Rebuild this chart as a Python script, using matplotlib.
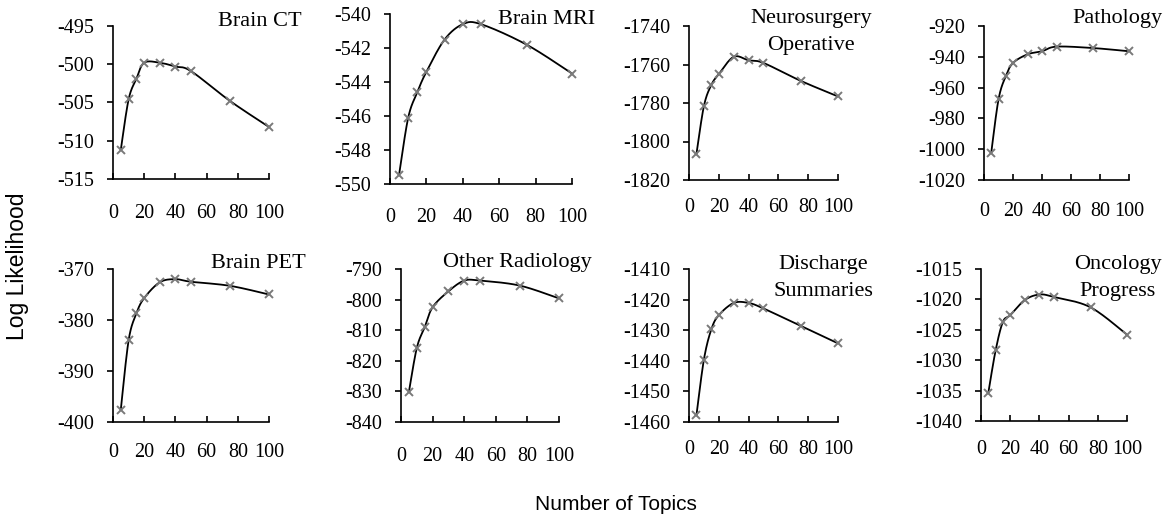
import numpy as np
import matplotlib
matplotlib.use("Agg")
import matplotlib.pyplot as plt

# ---------------- data ----------------
topics = [5, 10, 15, 20, 30, 40, 50, 75, 100]

brain_ct = [-511.2, -504.6, -501.9, -499.8, -499.8, -500.3, -500.9, -504.8, -508.2]
brain_mri = [-549.45, -546.1, -544.6, -543.4, -541.5, -540.6, -540.6, -541.8, -543.5]
neurosurgery = [-1806.5, -1781.6, -1770.6, -1765.0, -1756.0, -1757.8, -1759.2, -1768.5, -1776.6]
pathology = [-1002.3, -967.7, -952.6, -944.0, -938.4, -936.4, -933.4, -934.3, -936.4]
brain_pet = [-397.6, -384.0, -378.7, -375.7, -372.6, -372.0, -372.5, -373.3, -375.0]
other_radiology = [-830.2, -815.8, -809.0, -802.5, -797.3, -793.8, -793.8, -795.4, -799.6]
discharge = [-1457.8, -1439.6, -1429.7, -1425.1, -1421.1, -1421.1, -1422.9, -1428.6, -1434.3]
oncology = [-1035.4, -1028.4, -1023.7, -1022.6, -1020.1, -1019.2, -1019.6, -1021.3, -1025.8]

series = [brain_ct, brain_mri, neurosurgery, pathology,
          brain_pet, other_radiology, discharge, oncology]

panel_titles = ["Brain CT", "Brain MRI", "Neurosurgery\nOperative", "Pathology",
                "Brain PET", "Other Radiology", "Discharge\nSummaries", "Oncology\nProgress"]

y_limits = [(-515, -495), (-550, -540), (-1820, -1740), (-1020, -920),
            (-400, -370), (-840, -790), (-1460, -1410), (-1040, -1015)]
y_steps = [5, 2, 20, 20, 10, 10, 10, 5]
x_ticks = [0, 20, 40, 60, 80, 100]

x_label = "Number of Topics"
y_label = "Log Likelihood"

# ---------------- layout (pixels) ----------------
W, H = 1171, 518
# left, right, top, bottom in pixels
axes_px = [(113, 269, 26, 179), (390, 572, 14, 184), (689, 838, 26, 180), (984, 1129, 26, 180),
           (113, 269, 269, 422), (401, 559, 269, 422), (689, 838, 269, 422), (981, 1127, 269, 421)]
xpad_px = [25, 24, 18, 22, 21, 25, 18, 19]
title_px = [(260, 22), (547, 20), (811, 32), (1117, 18),
            (258, 263), (517, 263), (823, 278), (1118, 278)]

serif = ["Liberation Serif", "DejaVu Serif"]
sans = ["Liberation Sans", "DejaVu Sans"]


def smooth_curve(xs, ys, xlim, ylim, wpx, hpx, n=24):
    """Excel-like smoothed line (Catmull-Rom Bezier) computed in pixel-normalised space."""
    xs = np.asarray(xs, float)
    ys = np.asarray(ys, float)
    u = (xs - xlim[0]) / (xlim[1] - xlim[0]) * wpx
    v = (ys - ylim[0]) / (ylim[1] - ylim[0]) * hpx
    P = np.column_stack([u, v])
    m = len(P)
    out = []
    t = np.linspace(0, 1, n)[:, None]
    for i in range(m - 1):
        p0 = P[i - 1] if i > 0 else P[i]
        p1 = P[i]
        p2 = P[i + 1]
        p3 = P[i + 2] if i + 2 < m else P[i + 1]
        c1 = p1 + (p2 - p0) / 6.0
        c2 = p2 - (p3 - p1) / 6.0
        seg = ((1 - t) ** 3) * p1 + 3 * ((1 - t) ** 2) * t * c1 + 3 * (1 - t) * t ** 2 * c2 + t ** 3 * p2
        if i > 0:
            seg = seg[1:]
        out.append(seg)
    out = np.vstack(out)
    xo = out[:, 0] / wpx * (xlim[1] - xlim[0]) + xlim[0]
    yo = out[:, 1] / hpx * (ylim[1] - ylim[0]) + ylim[0]
    return xo, yo


fig = plt.figure(figsize=(W / 100, H / 100), dpi=100)
fig.patch.set_facecolor("white")

for i in range(8):
    l, r, t, b = axes_px[i]
    ax = fig.add_axes([l / W, 1 - b / H, (r - l) / W, (b - t) / H])
    ax.set_facecolor("none")
    ylim = y_limits[i]
    xlim = (0, 100)
    xs, ys = smooth_curve(topics, series[i], xlim, ylim, r - l, b - t)
    ax.plot(xs, ys, color="black", lw=1.3, solid_capstyle="round", zorder=2)
    ax.plot(topics, series[i], linestyle="none", marker="x", color="#7a7a7a",
            markersize=6, markeredgewidth=1.4, zorder=3, clip_on=False)
    ax.set_xlim(*xlim)
    ax.set_ylim(*ylim)
    ax.set_xticks(x_ticks)
    ax.set_yticks(np.arange(ylim[0], ylim[1] + y_steps[i] / 2, y_steps[i]))
    ax.set_yticklabels([f"{int(v)}" for v in ax.get_yticks()])
    for s in ["top", "right"]:
        ax.spines[s].set_visible(False)
    for s in ["left", "bottom"]:
        ax.spines[s].set_linewidth(1.2)
        ax.spines[s].set_color("black")
    ax.tick_params(axis="y", direction="out", length=4.5, width=1.2, pad=9, labelsize=14.5)
    ax.tick_params(axis="x", direction="in", length=4, width=1.2, pad=xpad_px[i] * 0.72, labelsize=14.5)
    for lab in ax.get_xticklabels() + ax.get_yticklabels():
        lab.set_family(serif)
    tx, ty = title_px[i]
    fig.text(tx / W, 1 - ty / H, panel_titles[i], ha="center", va="center",
             family=serif, fontsize=16, linespacing=1.55, multialignment="center")

fig.text(18 / W, 1 - 266 / H, y_label, rotation=90, ha="center", va="center",
         family=sans, fontsize=16.5)
fig.text(616 / W, 1 - 505 / H, x_label, ha="center", va="center",
         family=sans, fontsize=15)

fig.savefig("out.png", dpi=100, facecolor="white")
